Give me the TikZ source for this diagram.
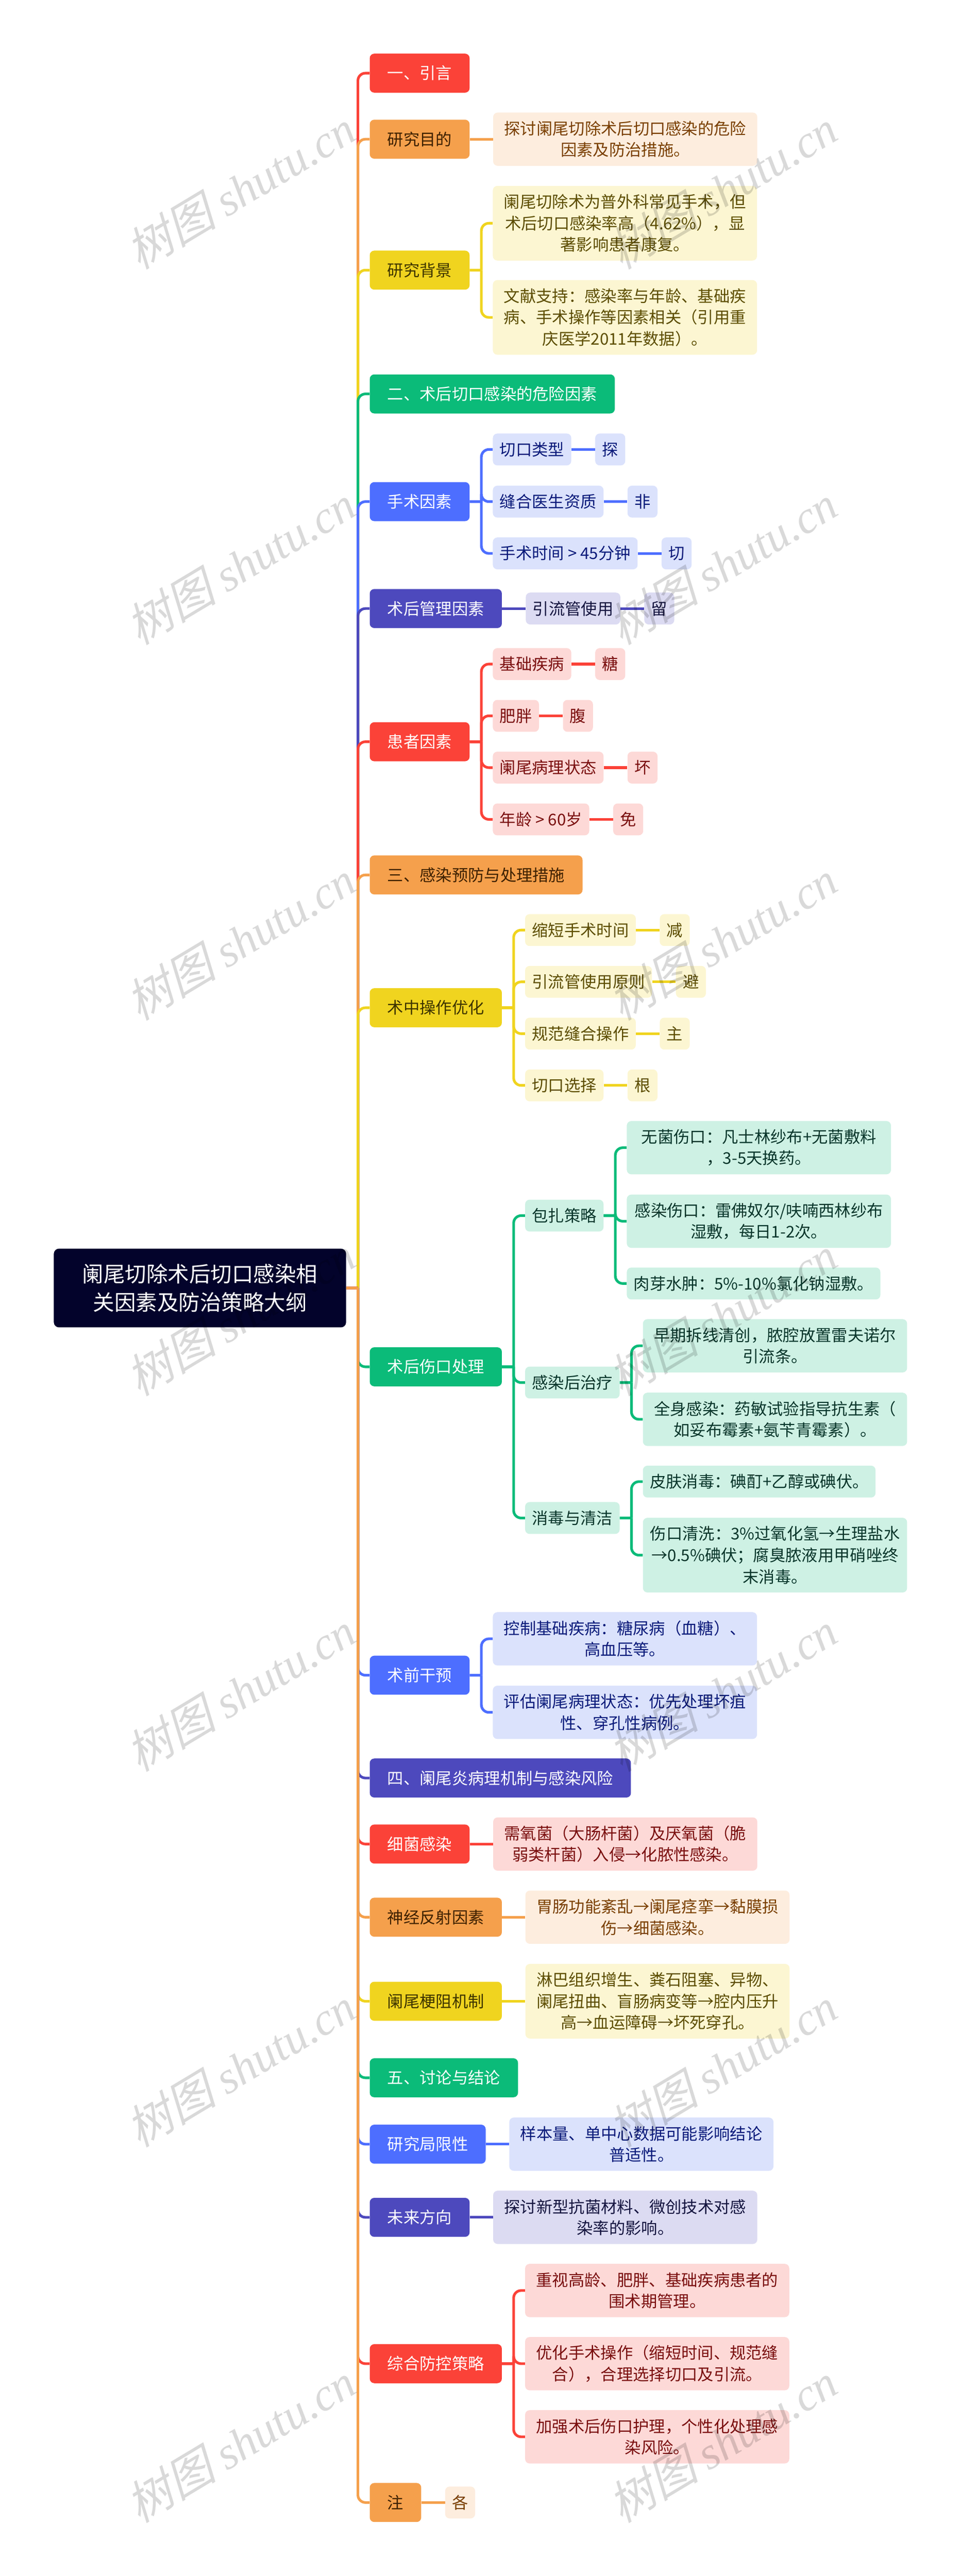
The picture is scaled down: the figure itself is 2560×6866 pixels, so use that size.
\documentclass[tikz,border=0pt]{standalone}
\usepackage{fontspec}
\setmainfont{Noto Sans CJK SC}
\newfontfamily\markcjk[FakeSlant=0.25]{Noto Sans CJK SC}
\newfontfamily\marklatin{Liberation Serif}[ItalicFont=* Italic]
\usetikzlibrary{positioning}
\definecolor{c_n}{HTML}{03032B}
\definecolor{c_r}{HTML}{FB4238}
\definecolor{c_o}{HTML}{F5A04C}
\definecolor{c_y}{HTML}{F0D41F}
\definecolor{c_g}{HTML}{0BBB79}
\definecolor{c_b}{HTML}{4D6EFF}
\definecolor{c_i}{HTML}{4D49BD}
\definecolor{t_r}{HTML}{FDD9D7}
\definecolor{t_o}{HTML}{FDEDDE}
\definecolor{t_y}{HTML}{FCF6D2}
\definecolor{t_g}{HTML}{CEF1E4}
\definecolor{t_b}{HTML}{DBE2FC}
\definecolor{t_i}{HTML}{DCDBF2}
\tikzset{
        treenode/.style = {align=center, anchor=west, inner ysep=0pt,
            font=\fontsize{21.5pt}{28.5pt}\selectfont},
        root_n/.style = {treenode, fill=c_n, text=white,
            rounded corners=7pt, inner xsep=38pt, minimum height=105pt,
            font=\fontsize{28.5pt}{38pt}\selectfont},
        main_n/.style = {treenode, rounded corners=6pt, inner xsep=23.5pt, minimum height=52pt},
        main_r/.style = {main_n, fill=c_r, text=white},
        main_o/.style = {main_n, fill=c_o, text={rgb,255:red,61;green,32;blue,0}},
        main_y/.style = {main_n, fill=c_y, text={rgb,255:red,61;green,52;blue,0}},
        main_g/.style = {main_n, fill=c_g, text=white},
        main_b/.style = {main_n, fill=c_b, text=white},
        main_i/.style = {main_n, fill=c_i, text=white},
        sub_n/.style = {treenode, rounded corners=6pt, inner xsep=9.25pt, minimum height=42.5pt},
        sub_r/.style = {sub_n, fill=t_r, text={rgb,255:red,122;green,14;blue,14}},
        sub_o/.style = {sub_n, fill=t_o, text={rgb,255:red,122;green,63;blue,0}},
        sub_y/.style = {sub_n, fill=t_y, text={rgb,255:red,92;green,77;blue,0}},
        sub_g/.style = {sub_n, fill=t_g, text={rgb,255:red,8;green,53;blue,42}},
        sub_b/.style = {sub_n, fill=t_b, text={rgb,255:red,10;green,26;blue,122}},
        sub_i/.style = {sub_n, fill=t_i, text={rgb,255:red,20;green,20;blue,63}},
        wide_n/.style = {inner xsep=0pt, minimum width=352pt},
        two_l/.style = {wide_n, minimum height=71pt},
        three_l/.style = {wide_n, minimum height=99.5pt},
        link/.style = {draw=#1, line width=3.5pt, rounded corners=10pt},
        mark_n/.style = {rotate=31, text=black, text opacity=0.15, inner sep=0pt,
            font=\fontsize{61pt}{61pt}\selectfont}
    }
\newcommand{\marktext}{{\markcjk 树图} {\marklatin\itshape shutu.cn}}

\begin{document}
\begin{tikzpicture}[x=0.5pt,y=-0.5pt]
    \useasboundingbox (0,0) rectangle (2560,6866);
    \node [root_n] (root) at (143,3433) {阑尾切除术后切口感染相\\关因素及防治策略大纲}; % ROOT

    % first part
    \node [main_r] (intro) at (985,195) {一、引言};
    \node [main_o] (goal) at (985,371) {研究目的};
    \node [sub_o, two_l, right=31pt of goal] (goal_a) {探讨阑尾切除术后切口感染的危险\\因素及防治措施。};
    \node [main_y] (back) at (985,720) {研究背景};
    \node [sub_y, three_l] (back_a) at (1313,595) {阑尾切除术为普外科常见手术，但\\术后切口感染率高（4.62\%），显\\著影响患者康复。};
    \node [sub_y, three_l] (back_b) at (1313,846) {文献支持：感染率与年龄、基础疾\\病、手术操作等因素相关（引用重\\庆医学2011年数据）。};

    % second part
    \node [main_g] (risk) at (985,1050) {二、术后切口感染的危险因素};
    \node [main_b] (oper) at (985,1337) {手术因素};
    \node [sub_b] (oper_a) at (1313,1198) {切口类型};
    \node [sub_b, right=31.5pt of oper_a] (oper_aa) {探};
    \node [sub_b] (oper_b) at (1313,1337) {缝合医生资质};
    \node [sub_b, right=31.5pt of oper_b] (oper_bb) {非};
    \node [sub_b] (oper_c) at (1313,1475) {手术时间 > 45分钟};
    \node [sub_b, right=31.5pt of oper_c] (oper_cc) {切};
    \node [main_i] (manage) at (985,1622) {术后管理因素};
    \node [sub_i, right=31.5pt of manage] (manage_a) {引流管使用};
    \node [sub_i, right=31.5pt of manage_a] (manage_aa) {留};
    \node [main_r] (patient) at (985,1977) {患者因素};
    \node [sub_r] (patient_a) at (1313,1770) {基础疾病};
    \node [sub_r, right=31.5pt of patient_a] (patient_aa) {糖};
    \node [sub_r] (patient_b) at (1313,1908) {肥胖};
    \node [sub_r, right=31.5pt of patient_b] (patient_bb) {腹};
    \node [sub_r] (patient_c) at (1313,2046) {阑尾病理状态};
    \node [sub_r, right=31.5pt of patient_c] (patient_cc) {坏};
    \node [sub_r] (patient_d) at (1313,2184) {年龄 > 60岁};
    \node [sub_r, right=31.5pt of patient_d] (patient_dd) {免};

    % third part
    \node [main_o] (prevent) at (985,2332) {三、感染预防与处理措施};
    \node [main_y] (during) at (985,2686) {术中操作优化};
    \node [sub_y] (during_a) at (1399,2479) {缩短手术时间};
    \node [sub_y, right=31.5pt of during_a] (during_aa) {减};
    \node [sub_y] (during_b) at (1399,2617) {引流管使用原则};
    \node [sub_y, right=31.5pt of during_b] (during_bb) {避};
    \node [sub_y] (during_c) at (1399,2755) {规范缝合操作};
    \node [sub_y, right=31.5pt of during_c] (during_cc) {主};
    \node [sub_y] (during_d) at (1399,2893) {切口选择};
    \node [sub_y, right=31.5pt of during_d] (during_dd) {根};
    \node [main_g] (wound) at (985,3643) {术后伤口处理};
    \node [sub_g] (dress) at (1399,3240) {包扎策略};
    \node [sub_g, two_l] (dress_a) at (1670,3059) {无菌伤口：凡士林纱布+无菌敷料\\，3-5天换药。};
    \node [sub_g, two_l] (dress_b) at (1670,3255) {感染伤口：雷佛奴尔/呋喃西林纱布\\湿敷，每日1-2次。};
    \node [sub_g] (dress_c) at (1670,3421) {肉芽水肿：5\%-10\%氯化钠湿敷。};
    \node [sub_g] (treat) at (1399,3685) {感染后治疗};
    \node [sub_g, two_l] (treat_a) at (1713,3587) {早期拆线清创，脓腔放置雷夫诺尔\\引流条。};
    \node [sub_g, two_l] (treat_b) at (1713,3783) {全身感染：药敏试验指导抗生素（\\如妥布霉素+氨苄青霉素）。};
    \node [sub_g] (clean) at (1399,4046) {消毒与清洁};
    \node [sub_g] (clean_a) at (1713,3949) {皮肤消毒：碘酊+乙醇或碘伏。};
    \node [sub_g, three_l] (clean_b) at (1713,4145) {伤口清洗：3\%过氧化氢→生理盐水\\→0.5\%碘伏；腐臭脓液用甲硝唑终\\末消毒。};
    \node [main_b] (before) at (985,4465) {术前干预};
    \node [sub_b, two_l] (before_a) at (1313,4368) {控制基础疾病：糖尿病（血糖）、\\高血压等。};
    \node [sub_b, two_l] (before_b) at (1313,4564) {评估阑尾病理状态：优先处理坏疽\\性、穿孔性病例。};

    % fourth part
    \node [main_i] (mech) at (985,4739) {四、阑尾炎病理机制与感染风险};
    \node [main_r] (germ) at (985,4915) {细菌感染};
    \node [sub_r, two_l, right=31pt of germ] (germ_a) {需氧菌（大肠杆菌）及厌氧菌（脆\\弱类杆菌）入侵→化脓性感染。};
    \node [main_o] (nerve) at (985,5110) {神经反射因素};
    \node [sub_o, two_l, right=31pt of nerve] (nerve_a) {胃肠功能紊乱→阑尾痉挛→黏膜损\\伤→细菌感染。};
    \node [main_y] (block) at (985,5334) {阑尾梗阻机制};
    \node [sub_y, three_l, right=31pt of block] (block_a) {淋巴组织增生、粪石阻塞、异物、\\阑尾扭曲、盲肠病变等→腔内压升\\高→血运障碍→坏死穿孔。};

    % fifth part
    \node [main_g] (discuss) at (985,5538) {五、讨论与结论};
    \node [main_b] (limit) at (985,5715) {研究局限性};
    \node [sub_b, two_l, right=31pt of limit] (limit_a) {样本量、单中心数据可能影响结论\\普适性。};
    \node [main_i] (future) at (985,5910) {未来方向};
    \node [sub_i, two_l, right=31pt of future] (future_a) {探讨新型抗菌材料、微创技术对感\\染率的影响。};
    \node [main_r] (plan) at (985,6300) {综合防控策略};
    \node [sub_r, two_l] (plan_a) at (1399,6105) {重视高龄、肥胖、基础疾病患者的\\围术期管理。};
    \node [sub_r, two_l] (plan_b) at (1399,6300) {优化手术操作（缩短时间、规范缝\\合），合理选择切口及引流。};
    \node [sub_r, two_l] (plan_c) at (1399,6495) {加强术后伤口护理，个性化处理感\\染风险。};
    \node [main_o] (note) at (985,6670) {注};
    \node [sub_o, right=31.5pt of note] (note_a) {各};

    % spine, later branches lie over earlier ones
    \foreach \kid/\col in {intro/c_r,goal/c_o,back/c_y,risk/c_g,oper/c_b,manage/c_i,patient/c_r,
        prevent/c_o,during/c_y,wound/c_g,before/c_b,mech/c_i,germ/c_r,nerve/c_o,block/c_y,
        discuss/c_g,limit/c_b,future/c_i,plan/c_r,note/c_o}
        \draw[link=\col] (root.east) -- ++(31,0) ++(0,0) |- (\kid.west);

    % branches
    \foreach \from/\kid/\col in {back/back_a/c_y,back/back_b/c_y,
        oper/oper_a/c_b,oper/oper_b/c_b,oper/oper_c/c_b,
        patient/patient_a/c_r,patient/patient_b/c_r,patient/patient_c/c_r,patient/patient_d/c_r,
        during/during_a/c_y,during/during_b/c_y,during/during_c/c_y,during/during_d/c_y,
        wound/dress/c_g,wound/treat/c_g,wound/clean/c_g,
        dress/dress_a/c_g,dress/dress_b/c_g,dress/dress_c/c_g,
        treat/treat_a/c_g,treat/treat_b/c_g,clean/clean_a/c_g,clean/clean_b/c_g,
        before/before_a/c_b,before/before_b/c_b,
        plan/plan_a/c_r,plan/plan_b/c_r,plan/plan_c/c_r}
        \draw[link=\col] (\from.east) -- ++(31,0) ++(0,0) |- (\kid.west);

    % straight links
    \foreach \from/\kid/\col in {goal/goal_a/c_o,oper_a/oper_aa/c_b,oper_b/oper_bb/c_b,oper_c/oper_cc/c_b,
        manage/manage_a/c_i,manage_a/manage_aa/c_i,
        patient_a/patient_aa/c_r,patient_b/patient_bb/c_r,patient_c/patient_cc/c_r,patient_d/patient_dd/c_r,
        during_a/during_aa/c_y,during_b/during_bb/c_y,during_c/during_cc/c_y,during_d/during_dd/c_y,
        germ/germ_a/c_r,nerve/nerve_a/c_o,block/block_a/c_y,limit/limit_a/c_b,future/future_a/c_i,note/note_a/c_o}
        \draw[link=\col] (\from.east) -- (\kid.west);

    % watermark
    \foreach \i in {0,...,6} {
        \node [mark_n] (mark_l\i) at (640,505+1001*\i) {\marktext};
        \node [mark_n] (mark_r\i) at (1925,505+1001*\i) {\marktext};
    }
\end{tikzpicture}
\end{document}
